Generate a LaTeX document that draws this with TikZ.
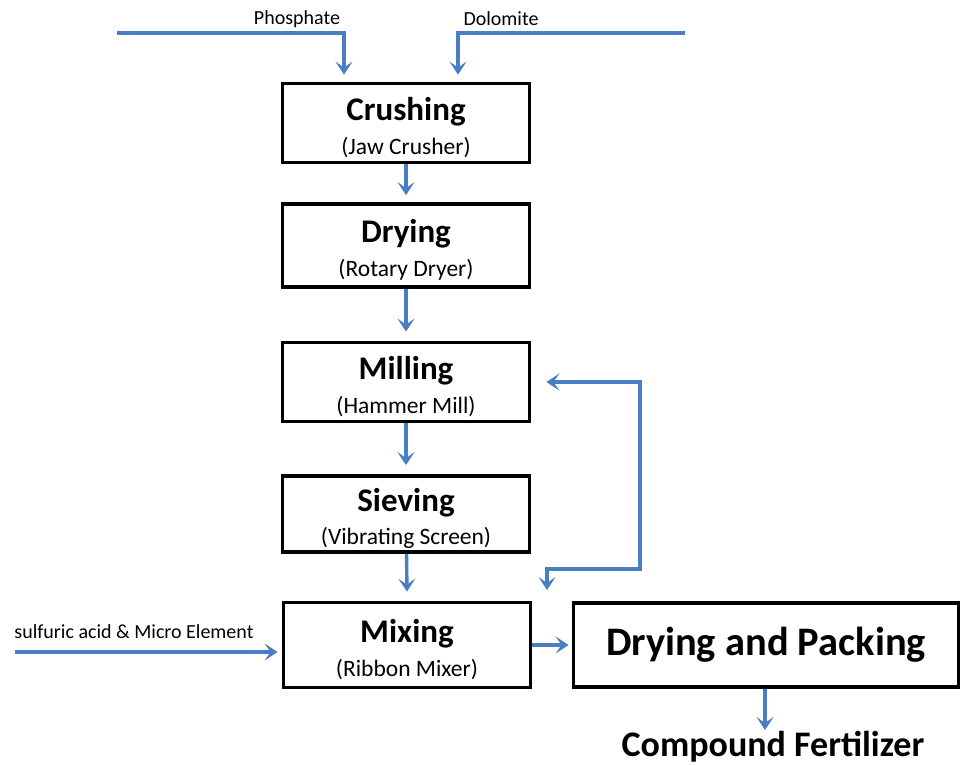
\documentclass[tikz,border=0pt]{standalone}
\usepackage{fontspec}
\setmainfont{Carlito}
\usetikzlibrary{arrows.meta}
\definecolor{flowblue}{RGB}{74,126,196}
\newcommand{\stagetext}[2]{\rule{0pt}{32pt}\fontsize{33}{36}\selectfont\bfseries #1\\[10pt]
    \fontsize{23.5}{28}\selectfont #2}

\begin{document}
\begin{tikzpicture}[x=1pt, y=-1pt,
    stage/.style={draw, line width=3.8pt, minimum width=247pt, minimum height=79pt,
        align=center, inner sep=0pt},
    tip/.tip={Stealth[length=13pt, width=17pt, inset=6pt]},
    flow/.style={draw=flowblue, line width=3.4pt, -tip},
    feed/.style={font=\fontsize{20}{24}\selectfont}]
    \useasboundingbox (0, 0) rectangle (961, 764);

    \node[stage] (crush) at (406, 123) {\stagetext{Crushing}{(Jaw Crusher)}};
    \node[stage, minimum height=83pt] (dry) at (406, 245.5) {\stagetext{Drying}{(Rotary Dryer)}};
    \node[stage] (mill) at (406, 382) {\stagetext{Milling}{(Hammer Mill)}};
    \node[stage, minimum height=76pt] (sieve) at (406, 514) {\stagetext{Sieving}{(Vibrating Screen)}};
    \node[stage, minimum height=85pt] (mix) at (407, 645) {\stagetext{Mixing}{(Ribbon Mixer)}};
    \node[stage, minimum width=385pt, minimum height=84pt] (pack) at (766, 645)
        {\fontsize{40.5}{44}\selectfont\bfseries Drying and Packing};

    \node (fert) at (773, 747) {\fontsize{36}{40}\selectfont\bfseries Compound Fertilizer};
    \node[feed] (phos) at (297, 19) {Phosphate};
    \node[feed] (dolo) at (501, 19) {Dolomite};
    \node[feed] (acid) at (134, 632) {sulfuric acid \& Micro Element};

    \coordinate (phosin) at (117, 33);
    \coordinate (doloin) at (685, 33);
    \coordinate (acidin) at (15, 652);
    \coordinate (fertin) at (765, 730);

    \draw[flow] (phosin) -| ([xshift=-62pt, yshift=7pt]crush.north);
    \draw[flow] (doloin) -| ([xshift=52pt, yshift=7pt]crush.north);

    \draw[flow] (crush) -- ([yshift=7pt]dry.north);
    \draw[flow] (dry) -- ([yshift=9pt]mill.north);
    \draw[flow] (mill) -- ([yshift=9pt]sieve.north);
    \draw[flow] (sieve) -- ([yshift=9pt]mix.north);

    \draw[flow] (acidin) -- ([xshift=-4pt, yshift=-7pt]mix.west);
    \draw[flow] (mix) -- ([xshift=-3pt]pack.west);
    \draw[flow] (pack.south -| fertin) -- (fertin);

    \draw[flow, tip-tip]
        ([xshift=15pt]mill.east) -- (640, 382) -- (640, 569) -- (547, 569) -- (547, 590);
\end{tikzpicture}
\end{document}
